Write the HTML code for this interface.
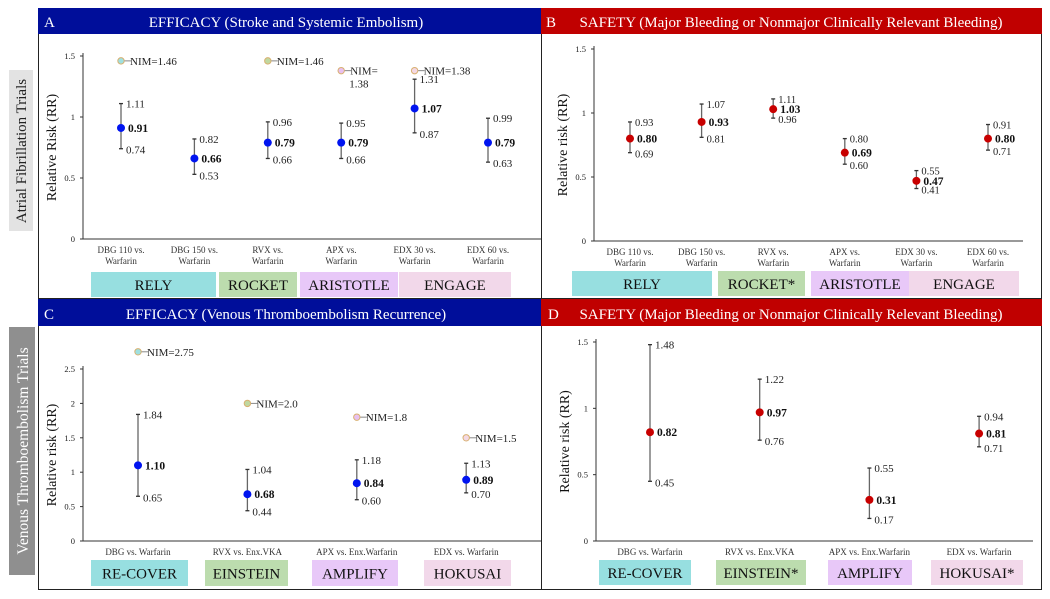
<!DOCTYPE html>
<html><head><meta charset="utf-8">
<style>
body{margin:0;background:#fff;}
svg{display:block;font-family:"Liberation Serif",serif;}
</style></head>
<body>
<svg id="fig" width="1050" height="599" viewBox="0 0 1050 599">
<rect x="9" y="70" width="24" height="161" fill="#e3e3e3"/>
<text transform="translate(26,151) rotate(-90)" text-anchor="middle" font-size="15" fill="#222">Atrial Fibrillation Trials</text>
<rect x="9" y="327" width="26" height="248" fill="#8f8f8f"/>
<text transform="translate(28,451) rotate(-90)" text-anchor="middle" font-size="15.5" fill="#fff">Venous Thromboembolism Trials</text>
<rect x="38.5" y="8.5" width="503" height="290" fill="none" stroke="#222"/>
<rect x="541.5" y="8.5" width="500" height="290" fill="none" stroke="#222"/>
<rect x="38.5" y="299.5" width="503" height="290" fill="none" stroke="#222"/>
<rect x="541.5" y="299.5" width="500" height="290" fill="none" stroke="#222"/>
<rect x="38" y="8" width="503" height="26" fill="#000e9a"/>
<text x="44" y="27" font-size="15" fill="#fff">A</text>
<text x="286" y="27" font-size="15" fill="#fff" text-anchor="middle">EFFICACY (Stroke and Systemic Embolism)</text>
<rect x="541" y="8" width="501" height="26" fill="#c00000"/>
<text x="546" y="27" font-size="15" fill="#fff">B</text>
<text x="791" y="27" font-size="15" fill="#fff" text-anchor="middle">SAFETY (Major Bleeding or Nonmajor Clinically Relevant Bleeding)</text>
<rect x="38" y="299" width="503" height="27" fill="#000e9a"/>
<text x="44" y="319" font-size="15" fill="#fff">C</text>
<text x="286" y="319" font-size="15" fill="#fff" text-anchor="middle">EFFICACY (Venous Thromboembolism Recurrence)</text>
<rect x="541" y="299" width="501" height="27" fill="#c00000"/>
<text x="548" y="319" font-size="15" fill="#fff">D</text>
<text x="791" y="319" font-size="15" fill="#fff" text-anchor="middle">SAFETY (Major Bleeding or Nonmajor Clinically Relevant Bleeding)</text>
</svg>
<script>
// Panel A data
const aCats=[["DBG 110 vs.","Warfarin"],["DBG 150 vs.","Warfarin"],["RVX vs.","Warfarin"],["APX vs.","Warfarin"],["EDX 30 vs.","Warfarin"],["EDX 60 vs.","Warfarin"]];
const aRR=[0.91,0.66,0.79,0.79,1.07,0.79];
const aLo=[0.74,0.53,0.66,0.66,0.87,0.63];
const aHi=[1.11,0.82,0.96,0.95,1.31,0.99];
const aNim=[1.46,null,1.46,1.38,1.38,null];
const aTicks=[0,0.5,1,1.5];
// Panel B data
const bCats=aCats;
const bRR=[0.80,0.93,1.03,0.69,0.47,0.80];
const bLo=[0.69,0.81,0.96,0.60,0.41,0.71];
const bHi=[0.93,1.07,1.11,0.80,0.55,0.91];
const bTicks=[0,0.5,1,1.5];
// Panel C data
const cCats=[["DBG vs. Warfarin"],["RVX vs. Enx.VKA"],["APX vs. Enx.Warfarin"],["EDX vs. Warfarin"]];
const cRR=[1.10,0.68,0.84,0.89];
const cLo=[0.65,0.44,0.60,0.70];
const cHi=[1.84,1.04,1.18,1.13];
const cNim=[2.75,2.0,1.8,1.5];
const cNimLabel=["NIM=2.75","NIM=2.0","NIM=1.8","NIM=1.5"];
const cTicks=[0,0.5,1,1.5,2,2.5];
// Panel D data
const dCats=cCats;
const dRR=[0.82,0.97,0.31,0.81];
const dLo=[0.45,0.76,0.17,0.71];
const dHi=[1.48,1.22,0.55,0.94];
const dTicks=[0,0.5,1,1.5];

const NS="http://www.w3.org/2000/svg";
const svg=document.getElementById('fig');
function mk(tag,attrs,txt){const e=document.createElementNS(NS,tag);for(const k in attrs)e.setAttribute(k,attrs[k]);if(txt!==undefined)e.textContent=txt;svg.appendChild(e);return e;}

function panel(p){
  const y=v=>p.y0-(v/p.ymax)*(p.y0-p.ytop);
  const x=i=>p.x1+i*p.dx;
  let e=mk('line',{x1:p.ax,y1:p.ytop-3,x2:p.ax,y2:p.y0,stroke:'#333','stroke-width':1});
  
  
  e=mk('line',{x1:p.ax,y1:p.y0,x2:p.xend,y2:p.y0,stroke:'#333','stroke-width':1});
  
  
  p.ticks.forEach(t=>{
    e=mk('line',{x1:p.ax-3,y1:y(t),x2:p.ax,y2:y(t),stroke:'#333'});
    
    
    e=mk('text',{x:p.ax-8,y:y(t)+3,'font-size':8.5,'text-anchor':'end',fill:'#222'},String(t));
    
    
  });
  e=mk('text',{transform:`translate(${p.ax-27},${(p.y0+p.ytop)/2}) rotate(-90)`,'font-size':14,'text-anchor':'middle',fill:'#111'},p.ytitle);
  
  
  p.cats.forEach((c,i)=>{
    c.forEach((ln,j)=>{
      e=mk('text',{x:x(i),y:p.y0+14+j*11,'font-size':9,'text-anchor':'middle',fill:'#333'},ln);
      
      
    });
  });
  p.rr.forEach((v,i)=>{
    const cx=x(i);
    e=mk('line',{x1:cx,y1:y(p.hi[i]),x2:cx,y2:y(p.lo[i]),stroke:'#666','stroke-width':1.3});
    
    
    [p.hi[i],p.lo[i]].forEach(w=>{
      e=mk('line',{x1:cx-2,y1:y(w),x2:cx+2,y2:y(w),stroke:'#333','stroke-width':1.3});
      
      
    });
    e=mk('circle',{cx:cx,cy:y(v),r:4,fill:p.color});
    
    
    e=mk('text',{x:cx+7,y:y(v)+4,'font-size':11.5,'font-weight':'bold',fill:'#111'},v.toFixed(2));
    
    
    e=mk('text',{x:cx+5,y:y(p.hi[i])+4,'font-size':p.fs,fill:'#222'},p.hi[i].toFixed(2));
    
    
    e=mk('text',{x:cx+5,y:y(p.lo[i])+5,'font-size':p.fs,fill:'#222'},p.lo[i].toFixed(2));
    
    
  });
  if(p.nim){
    p.nim.forEach((n,i)=>{
      if(n===null)return;
      const cx=x(i), cy=y(n);
      e=mk('line',{x1:cx+3,y1:cy,x2:cx+10,y2:cy,stroke:'#888'});
      
      
      e=mk('circle',{cx:cx,cy:cy,r:3.2,fill:p.nimFill[i],stroke:'#d8b070','stroke-width':1});
      
      
      const lab=p.nimLabel[i];
      if(Array.isArray(lab)){
        lab.forEach((l,j)=>{
          e=mk('text',{x:cx+(j?8:9),y:cy+4+j*13,'font-size':11,fill:'#222'},l);
          
          
        });
      } else {
        e=mk('text',{x:cx+9,y:cy+4,'font-size':11,fill:'#222'},lab);
        
        
      }
    });
  }
  p.bands.forEach(b=>{
    e=mk('rect',{x:b[0],y:p.by,width:b[1]-b[0],height:p.bh,fill:b[3]});
    
    
    e=mk('text',{x:(b[0]+b[1])/2,y:p.by+p.bh/2+5.5,'font-size':15,'text-anchor':'middle',fill:'#111'},b[2]);
    
    
  });
}
const CY='#97dfe0',GR='#bcdcae',PU='#e8c8f8',PK='#f2d8ea';
panel({id:'panel-a',ax:83,y0:239,ytop:56,ymax:1.5,x1:121,dx:73.4,xend:541,ticks:aTicks,cats:aCats,rr:aRR,lo:aLo,hi:aHi,color:'#0014f0',fs:11,ytitle:'Relative Risk (RR)',
  nim:aNim,nimLabel:['NIM=1.46',null,'NIM=1.46',['NIM=','1.38'],'NIM=1.38'],nimFill:['#9fe0e0',null,'#c0d8a0','#e8c0f0','#f4d8e4'],
  by:272,bh:25,bands:[[91,216,'RELY',CY],[219,297,'ROCKET',GR],[300,398,'ARISTOTLE',PU],[399,511,'ENGAGE',PK]]});
panel({id:'panel-b',ax:594,y0:241,ytop:49,ymax:1.5,x1:630,dx:71.6,xend:1023,ticks:bTicks,cats:bCats,rr:bRR,lo:bLo,hi:bHi,color:'#c80000',fs:10.5,ytitle:'Relative risk (RR)',
  by:271,bh:25,bands:[[572,712,'RELY',CY],[718,805,'ROCKET*',GR],[811,909,'ARISTOTLE',PU],[909,1019,'ENGAGE',PK]]});
panel({id:'panel-c',ax:83,y0:541,ytop:369,ymax:2.5,x1:138,dx:109.4,xend:541,ticks:cTicks,cats:cCats,rr:cRR,lo:cLo,hi:cHi,color:'#0014f0',fs:11,ytitle:'Relative risk (RR)',
  nim:cNim,nimLabel:cNimLabel,nimFill:['#9fe0e0','#c0d8a0','#e8c0f0','#f4d8e4'],
  by:560,bh:26,bands:[[91,188,'RE-COVER',CY],[205,288,'EINSTEIN',GR],[312,398,'AMPLIFY',PU],[424,511,'HOKUSAI',PK]]});
panel({id:'panel-d',ax:596,y0:541,ytop:342,ymax:1.5,x1:650,dx:109.7,xend:1033,ticks:dTicks,cats:dCats,rr:dRR,lo:dLo,hi:dHi,color:'#c80000',fs:11,ytitle:'Relative risk (RR)',
  by:560,bh:25,bands:[[599,691,'RE-COVER',CY],[716,806,'EINSTEIN*',GR],[828,912,'AMPLIFY',PU],[931,1023,'HOKUSAI*',PK]]});
</script>
</body></html>
